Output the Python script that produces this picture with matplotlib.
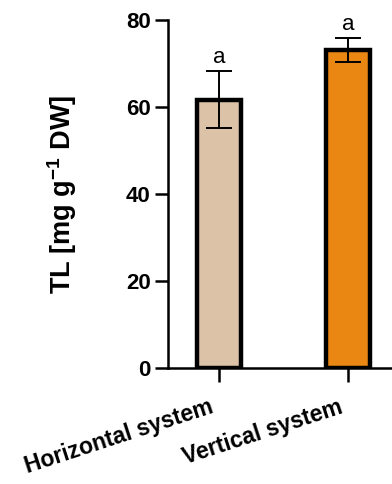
import matplotlib.pyplot as plt
import matplotlib.transforms as mtransforms
import numpy as np

plt.rcParams['font.family'] = ['Liberation Sans', 'DejaVu Sans']
plt.rcParams['mathtext.fontset'] = 'custom'
plt.rcParams['mathtext.bf'] = 'Liberation Sans:bold'

# TL content per cultivation system
systems = ['Horizontal system', 'Vertical system']
tl_mean = [61.7, 73.1]
tl_err = [6.5, 2.7]
letters = ['a', 'a']
colors = ['#DCC3A8', '#EA8612']

fig = plt.figure(figsize=(3.92, 4.84), dpi=100)
ax = fig.add_axes([0.4286, 0.2397, 0.5714, 0.7190])

x = np.arange(len(systems))
ax.bar(x, tl_mean, width=0.34, color=colors, edgecolor='black', linewidth=3.2, zorder=2)
ax.errorbar(x, tl_mean, yerr=tl_err, fmt='none', ecolor='black', elinewidth=1.4,
            capsize=9.5, capthick=1.4, zorder=3)

for xi, m, e, lab in zip(x, tl_mean, tl_err, letters):
    ax.text(xi, m + e + 0.8, lab, ha='center', va='bottom', fontsize=16)

ax.set_xlim(-0.395, 1.34)
ax.set_ylim(0, 80)
ax.set_yticks([0, 20, 40, 60, 80])
ax.set_xticks(x)
ax.tick_params(axis='y', labelsize=16, length=9.5, width=1.8, pad=3)
ax.tick_params(axis='x', length=10, width=1.8, pad=10)
ax.set_xticklabels(systems, rotation=18, ha='right', rotation_mode='anchor',
                   fontweight='bold', fontsize=16.5)
for lab in ax.get_yticklabels():
    lab.set_fontweight('bold')

# nudge the slanted labels a little to the left of their ticks
shift = mtransforms.ScaledTranslation(-10 / 100, 0, fig.dpi_scale_trans)
for tick in ax.xaxis.get_major_ticks():
    tick.label1.set_transform(tick.label1.get_transform() + shift)

ax.set_ylabel('TL [mg g$^{\\mathbf{-1}}$ DW]', fontsize=19.5, fontweight='bold', labelpad=34)

for side in ['top', 'right']:
    ax.spines[side].set_visible(False)
for side in ['left', 'bottom']:
    ax.spines[side].set_linewidth(1.8)

fig.savefig('out.png', dpi=100)
